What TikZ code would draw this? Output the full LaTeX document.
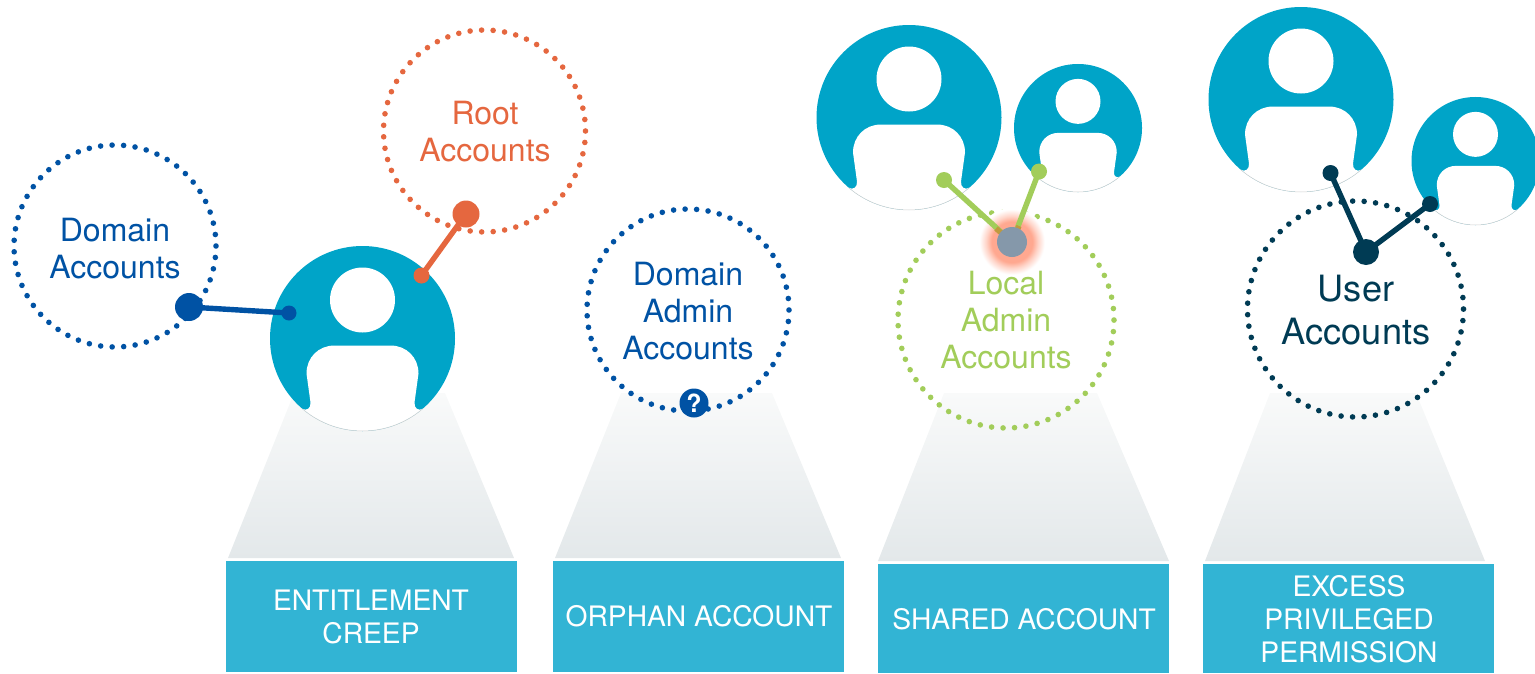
\documentclass[tikz,border=0pt]{standalone}
\usepackage{fontspec}
\setmainfont{TeX Gyre Heros}
\definecolor{cyanp}{HTML}{00A4C8}
\definecolor{boxc}{HTML}{32B4D4}
\definecolor{blu}{HTML}{0052A4}
\definecolor{org}{HTML}{E5673F}
\definecolor{grn}{HTML}{A2CD5A}
\definecolor{drk}{HTML}{003B54}
\definecolor{hub}{HTML}{8598AA}
\definecolor{brn}{HTML}{C09A3E}
\definecolor{ped}{HTML}{E3E8EA}
\definecolor{pedtop}{HTML}{F9FAFA}
\definecolor{glowa}{HTML}{FFA890}
\definecolor{glowb}{HTML}{FFD4C8}
\pgfdeclareradialshading{glowshade}{\pgfpoint{0bp}{0bp}}{color(0bp)=(glowa); color(15bp)=(glowa); color(19bp)=(glowb); color(24bp)=(white); color(50bp)=(white)}
\tikzset{
  x=1pt,y=-1pt,
  ringA/.style={draw,line width=5.6pt,line cap=round,dash pattern=on 0pt off 11.54pt},
  ringB/.style={draw,line width=5.6pt,line cap=round,dash pattern=on 0pt off 11.5pt},
  lbl/.style={inner sep=0pt,align=center,font=\fontsize{32}{37}\selectfont},
  boxlbl/.style={inner sep=0pt,align=center,text=white,font=\fontsize{28.2}{33}\selectfont},
  wbox/.style={fill=boxc,draw=none},
  pedestal/.style={top color=pedtop,bottom color=ped,draw=none,shading angle=0},
  link/.style={line width=5.4pt},
  dot/.style={circle,draw=none,inner sep=0pt,minimum size=#1}
}
\newcommand{\person}[3]{%
  \begin{scope}[shift={(#1,#2)},scale=#3]
    \fill[cyanp] (0,0) circle[radius=92.5pt];
    \fill[white] (0,7) -- (28,7) .. controls (44,7) and (56,19) .. (56,35) -- (52,64)
      .. controls (51.5,70) and (56,72.5) .. (60,70.4)
      .. controls (25.4,99.8) and (-25.4,99.8) .. (-60,70.4)
      .. controls (-56,72.5) and (-51.5,70) .. (-52,64) -- (-56,35)
      .. controls (-56,19) and (-44,7) .. (-28,7) -- cycle;
    \draw[black!18,line width=0.5pt] (60,70.4) .. controls (25.4,99.8) and (-25.4,99.8) .. (-60,70.4);
    \fill[white] (0,-38.5) circle[radius=32.5pt];
  \end{scope}}
\begin{document}
\begin{tikzpicture}[x=1pt,y=-1pt]
\useasboundingbox (0,0) rectangle (1535,673);
\clip (0,0) rectangle (1535,673);
% pedestals
\shade[pedestal] (228,558) -- (294,393) -- (445,393) -- (514,558) -- cycle;
\shade[pedestal] (555,558) -- (621,393) -- (772,393) -- (841,558) -- cycle;
\shade[pedestal] (878,561) -- (944,393) -- (1097,393) -- (1169,561) -- cycle;
\shade[pedestal] (1205,561) -- (1270,393) -- (1416,393) -- (1485,561) -- cycle;
% boxes
\node[wbox,minimum width=291pt,minimum height=111pt,inner sep=0pt] (b1) at (371.5,616.5) {};
\node[wbox,minimum width=291pt,minimum height=111pt,inner sep=0pt] (b2) at (698.5,616.5) {};
\node[wbox,minimum width=291pt,minimum height=109pt,inner sep=0pt] (b3) at (1023.5,618.5) {};
\node[wbox,minimum width=291pt,minimum height=109pt,inner sep=0pt] (b4) at (1348.5,618.5) {};
\node[boxlbl] (t1) at (371,617) {ENTITLEMENT\\CREEP};
\node[boxlbl] (t2) at (699,616) {ORPHAN ACCOUNT};
\node[boxlbl] (t3) at (1024,619) {SHARED ACCOUNT};
\node[boxlbl] (t4) at (1349,619) {EXCESS\\PRIVILEGED\\PERMISSION};
% people
\person{362.5}{338.5}{1}
\person{909}{117.5}{1}
\person{1078}{128}{0.692}
\person{1301}{99.5}{1}
\person{1475.5}{161}{0.692}
% rings
\path[ringA,draw=blu] (115,246) circle[radius=101pt];
\path[ringA,draw=org] (484.5,131) circle[radius=101pt];
\path[ringA,draw=blu] (688,310) circle[radius=101pt];
\path[ringB,draw=grn] (1006,320) circle[radius=108pt];
\path[ringB,draw=drk] (1355.5,309) circle[radius=108pt];
% ring labels
\node[lbl,text=blu] (l1) at (115,248.5) {Domain\\Accounts};
\node[lbl,text=org] (l2) at (485,132) {Root\\Accounts};
\node[lbl,text=blu] (l3) at (688,311) {Domain\\Admin\\Accounts};
\node[lbl,text=grn] (l4) at (1006,320.5) {Local\\Admin\\Accounts};
\node[lbl,text=drk,font=\fontsize{36.2}{43.5}\selectfont] (l5) at (1356,310) {User\\Accounts};
% connectors
\node[dot=28pt,fill=blu] (d1a) at (189,307) {};
\node[dot=15pt,fill=blu] (d1b) at (289,313) {};
\draw[link,blu] (d1a.center) -- (d1b.center);
\node[dot=27pt,fill=org] (d2a) at (466,214) {};
\node[dot=16pt,fill=org] (d2b) at (421.5,275.5) {};
\draw[link,org] (d2a.center) -- (d2b.center);
% local admin hub
\shade[shading=glowshade] (1012,242) circle[radius=34pt];
\node[dot=16pt,fill=grn] (d3a) at (944,180) {};
\node[dot=16pt,fill=grn] (d3b) at (1039,171.5) {};
\coordinate (h3) at (1012,242);
\draw[link,grn] (d3a.center) -- (h3);
\draw[link,grn] (d3b.center) -- (h3);
\draw[link,brn] (996,228.5) -- (h3);
\draw[link,brn] (1019,226) -- (h3);
\fill[brn] (1010,238) circle[radius=10pt];
\node[dot=30pt,fill=hub] (d3c) at (h3) {};
% user hub
\node[dot=16pt,fill=drk] (d4a) at (1330.5,173) {};
\node[dot=16pt,fill=drk] (d4b) at (1430,204) {};
\node[dot=26pt,fill=drk] (d4c) at (1366,252) {};
\draw[link,drk] (d4a.center) -- (d4c.center) -- (d4b.center);
% question badge
\node[dot=29pt,fill=blu] (q) at (694,403) {};
\node[inner sep=0pt,text=white,font=\fontsize{25}{25}\bfseries\selectfont] (qm) at (q) {?};
\end{tikzpicture}
\end{document}
